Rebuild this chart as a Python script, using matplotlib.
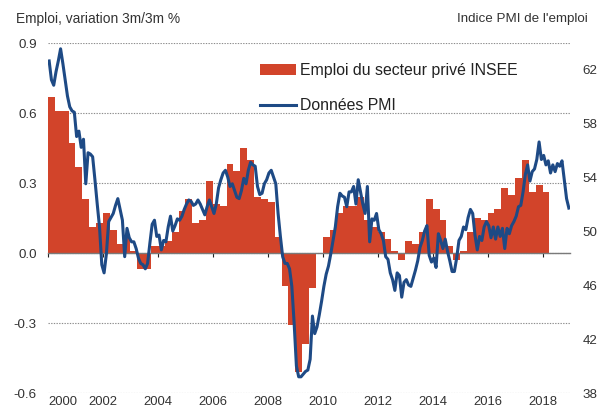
import numpy
import matplotlib
matplotlib.use('Agg')
import matplotlib.pyplot

matplotlib.rcParams['font.family'] = ['Liberation Sans', 'DejaVu Sans']
matplotlib.rcParams['axes.unicode_minus'] = False

# INSEE private sector employment, change 3m/3m in %, quarterly from 2000Q1
insee_2000_2008 = [0.67, 0.61, 0.61, 0.47,
                   0.37, 0.23, 0.11, 0.13,
                   0.17, 0.10, 0.04, 0.07,
                   0.01, -0.07, -0.07, 0.03,
                   0.03, 0.05, 0.09, 0.18,
                   0.23, 0.13, 0.14, 0.31,
                   0.21, 0.20, 0.38, 0.35,
                   0.45, 0.40, 0.24, 0.23,
                   0.22, 0.07, -0.14, -0.31]
insee_2009_2018 = [-0.51, -0.39, -0.15, 0.00,
                   0.07, 0.10, 0.17, 0.20,
                   0.20, 0.24, 0.14, 0.11,
                   0.09, 0.06, 0.01, -0.03,
                   0.05, 0.04, 0.09, 0.23,
                   0.19, 0.14, 0.03, -0.03,
                   0.01, 0.09, 0.15, 0.14,
                   0.17, 0.19, 0.28, 0.25,
                   0.32, 0.40, 0.26, 0.29,
                   0.26]

# PMI employment index, monthly from Jan 2000
pmi_2000_2004 = [62.6, 61.2, 60.8, 61.8, 62.6, 63.5, 62.4, 61.2, 60.0, 59.2, 58.9, 58.8,
                 57.0, 57.4, 56.2, 56.8, 53.5, 55.8, 55.7, 55.5, 53.8, 52.0, 50.3, 47.5,
                 46.9, 48.3, 50.7, 51.0, 51.3, 51.9, 52.4, 51.6, 50.8, 48.1, 50.2, 49.5,
                 49.2, 49.2, 48.7, 48.0, 47.6, 47.5, 47.2, 47.6, 49.1, 50.5, 50.8, 49.6,
                 49.7, 48.6, 49.3, 49.2, 50.3, 51.1, 50.0, 50.4, 50.9, 50.8, 51.1, 51.6]
pmi_2005_2009 = [52.0, 52.3, 52.2, 51.9, 52.0, 52.3, 52.0, 51.6, 51.2, 51.8, 52.3, 51.8,
                 51.3, 52.0, 53.2, 53.8, 54.3, 54.5, 54.0, 53.3, 53.5, 53.0, 52.5, 52.4,
                 53.0, 53.9, 53.5, 54.5, 55.1, 54.9, 54.8, 53.3, 52.7, 52.8, 53.5, 53.8,
                 54.3, 54.5, 54.0, 53.5, 51.3, 49.6, 48.1, 47.6, 47.6, 47.2, 45.9, 43.2,
                 40.0, 39.2, 39.2, 39.4, 39.6, 39.7, 40.5, 43.7, 42.4, 42.9, 43.8, 44.8]
pmi_2010_2014 = [45.9, 46.8, 47.4, 48.3, 49.3, 50.3, 51.8, 52.8, 52.6, 52.5, 51.8, 52.9,
                 52.9, 53.3, 52.0, 53.8, 52.9, 52.0, 51.3, 53.3, 49.2, 50.9, 50.8, 51.3,
                 50.1, 49.8, 49.3, 48.1, 47.9, 46.9, 46.4, 45.6, 46.9, 46.7, 45.1, 46.2,
                 46.4, 46.0, 45.9, 46.5, 47.1, 47.8, 48.8, 49.3, 50.0, 50.4, 48.2, 47.7,
                 48.0, 47.3, 49.8, 49.3, 48.7, 49.4, 48.5, 47.8, 47.0, 47.0, 48.0, 49.3]
pmi_2015_2018 = [49.6, 50.3, 50.1, 51.0, 51.6, 51.3, 49.7, 48.6, 49.6, 49.3, 50.3, 50.7,
                 50.4, 49.5, 50.3, 49.4, 50.3, 49.6, 50.2, 48.7, 50.2, 49.8, 50.4, 50.7,
                 51.1, 51.8, 51.9, 52.9, 54.2, 54.9, 53.7, 54.4, 54.6, 55.3, 56.6, 55.3,
                 55.6, 54.9, 55.2, 54.3, 54.9, 54.4, 55.0, 54.8, 55.2, 53.8, 52.4, 51.7]

left_ticks = [-0.6, -0.3, 0.0, 0.3, 0.6, 0.9]
right_ticks = [38, 42, 46, 50, 54, 58, 62]
year_ticks = list(range(2000, 2019, 2))

RED = '#D2442A'
BLUE = '#1E4A85'
TEXT = '#333333'


def main():
  insee = numpy.array(insee_2000_2008 + insee_2009_2018)
  pmi = numpy.array(pmi_2000_2004 + pmi_2005_2009 + pmi_2010_2014 + pmi_2015_2018)
  x_q = 2000 + numpy.arange(len(insee)) * 0.25 + 0.125
  x_m = 2000 + (numpy.arange(len(pmi)) + 0.5) / 12.0

  fig = matplotlib.pyplot.figure(figsize=(5.98, 4.12), dpi=100)
  ax = fig.add_axes([48 / 598, 1 - 393 / 412, 522 / 598, 350 / 412])
  bars = ax.bar(x_q, insee, width=0.25, color=RED, linewidth=0, zorder=1)
  ax.set_xlim(2000, 2019)
  ax.set_ylim(-0.6, 0.9)
  ax.set_yticks(left_ticks)
  ax.set_yticklabels(['%.1f' % v for v in left_ticks])
  ax.yaxis.grid(True, color='#8c8c8c', linestyle=(0, (1.2, 1.2)), linewidth=0.8)
  ax.set_axisbelow(True)
  for s in ['top', 'left', 'right']:
    ax.spines[s].set_visible(False)
  ax.spines['bottom'].set_position(('data', 0))
  ax.spines['bottom'].set_color('#7a7a7a')
  ax.spines['bottom'].set_linewidth(1.0)
  ax.spines['bottom'].set_zorder(3)
  ax.set_xticks(year_ticks)
  ax.tick_params(axis='x', direction='out', length=3, width=0.8, color='#222222', labelbottom=False)
  ax.tick_params(axis='y', length=0, pad=8, labelsize=9.6, labelcolor=TEXT)

  secax = ax.secondary_xaxis('bottom')
  secax.set_xticks(year_ticks)
  secax.set_xticklabels([str(y) for y in year_ticks])
  secax.tick_params(length=0, pad=2.5, labelsize=9.4, labelcolor=TEXT)
  secax.spines['bottom'].set_visible(False)
  secax.get_xticklabels()[0].set_horizontalalignment('left')

  ax2 = ax.twinx()
  line, = ax2.plot(x_m, pmi, color=BLUE, linewidth=2.2, solid_joinstyle='round')
  ax2.set_ylim(38, 63.93)
  ax2.set_yticks(right_ticks)
  ax2.tick_params(axis='y', length=0, pad=9, labelsize=9.6, labelcolor=TEXT)
  for s in ax2.spines.values():
    s.set_visible(False)

  ax2.legend([bars, line], ['Emploi du secteur privé INSEE', 'Données PMI'],
             loc='upper left', bbox_to_anchor=(0.406, 0.944), frameon=False,
             borderpad=0, borderaxespad=0, handlelength=2.3, handletextpad=0.2,
             labelspacing=1.3, fontsize=11.4, labelcolor='#222222')

  fig.text(16 / 598, 1 - 19 / 412, 'Emploi, variation 3m/3m %', fontsize=9.9,
           color=TEXT, va='center', ha='left')
  fig.text(588 / 598, 1 - 19 / 412, "Indice PMI de l'emploi", fontsize=9.6,
           color=TEXT, va='center', ha='right')

  matplotlib.pyplot.savefig('out.png', dpi=100)


if __name__ == "__main__":
  main()
